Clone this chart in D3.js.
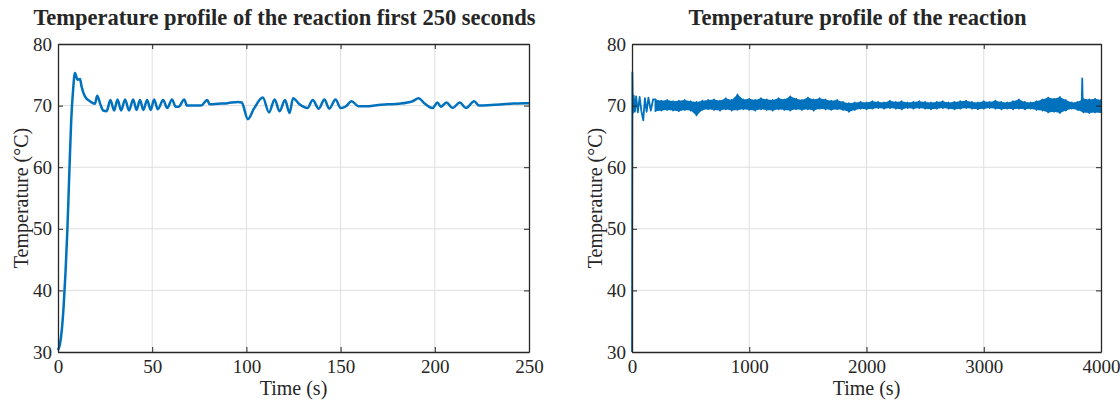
<!DOCTYPE html>
<html>
<head>
<meta charset="utf-8">
<script src="https://cdn.jsdelivr.net/npm/d3@7/dist/d3.min.js"></script>
<style>
body { margin: 0; background: #fff; }
text { font-family: "Liberation Serif", "Times New Roman", serif; fill: #262626; }
</style>
</head>
<body>
<svg id="chart" width="1120" height="402"></svg>
<script>
// left panel: first 250 s
var shortTime = [0, 1, 2, 3, 4, 5, 6, 7, 8, 9, 10.4, 11.7, 12.5, 14.3, 17, 19.6, 20.8, 22.5, 24, 25.8,
    27.8, 29.8, 31.6, 33.5, 35.6, 37.7, 39.9, 41.7, 43.5, 45.3, 47.3, 49.2, 51, 53, 55.8, 58, 60.5, 62.5,
    64, 67, 68.5, 72, 76, 79.2, 80.5, 85, 90, 95.5, 97.5, 100.8, 104, 108.7, 112, 115, 117.6, 120.5,
    122.9, 124.8, 128.2, 132.4, 135.2, 138.4, 141.4, 144, 147.3, 150, 152.9, 155.8, 159.5, 165, 170,
    175, 181, 188.2, 191.4, 194.4, 198.8, 201.4, 203.2, 206.2, 209.4, 213.3, 216.5, 220.9, 223.5, 230,
    240, 248.2, 250];
var shortTemp = [30.3, 31.2, 33.5, 37.5, 43, 50, 59, 67.5, 72.5, 75.3, 74.2, 74.3, 73.1, 71.5, 70.7, 70.3, 71.6, 70.2, 69.2, 69.1,
    70.9, 69.2, 71, 69.2, 71, 69.2, 71, 69.3, 70.9, 69.3, 70.9, 69.3, 71, 69.4, 70.9, 69.6, 71, 69.8,
    69.8, 71, 70, 70, 70, 70.9, 70.2, 70.3, 70.4, 70.6, 70.5, 67.8, 69.5, 71.3, 68.9, 71, 69.1, 70.9,
    68.8, 71.2, 70.2, 69.6, 70.9, 69.5, 71, 69.5, 71, 69.6, 69.9, 70.7, 69.9, 69.9, 70.1,
    70.2, 70.3, 70.7, 71.2, 70.4, 69.6, 70.5, 69.8, 70.5, 69.6, 70.5, 69.6, 70.7, 70, 70.1,
    70.3, 70.4, 70.4];

// right panel: whole run. start-up part, then the noise band (high / low) and one spike
var startTime = [0, 3, 8, 15, 25, 35, 50, 65, 80, 96, 110, 125, 140, 160, 180];
var startTemp = [30, 75.4, 68.8, 71.6, 69.0, 71.5, 68.9, 71.4, 69.1, 67.6, 71.2, 69.0, 71.3, 69.2, 71.0];
var bandTime = [200, 250, 300, 350, 400, 450, 500, 550, 600, 650, 700, 750, 800, 850, 900, 950,
    1000, 1050, 1100, 1150, 1200, 1250, 1300, 1350, 1400, 1450, 1500, 1550, 1600, 1650, 1700, 1750,
    1800, 1850, 1900, 1950, 2000, 2050, 2100, 2150, 2200, 2250, 2300, 2350, 2400, 2450, 2500, 2550,
    2600, 2650, 2700, 2750, 2800, 2850, 2900, 2950, 3000, 3050, 3100, 3150, 3200, 3250, 3300, 3350,
    3400, 3450, 3500, 3550, 3600, 3650, 3700, 3750, 3800, 3850, 3900, 3950, 4000];
var bandHigh = [71.0, 70.8, 70.9, 70.7, 70.8, 70.9, 70.7, 70.6, 70.8, 70.9, 71.0, 70.8, 71.2, 70.9, 71.8, 71.0,
    71.1, 70.9, 71.2, 71.0, 70.9, 71.2, 71.0, 71.5, 71.1, 70.9, 71.3, 71.0, 71.2, 71.0, 70.8, 70.9,
    70.6, 70.4, 70.5, 70.6, 70.5, 70.7, 70.6, 70.5, 70.8, 70.6, 70.7, 70.5, 70.6, 70.7, 70.6, 70.5,
    70.6, 70.7, 70.5, 70.6, 70.7, 70.8, 70.6, 70.5, 70.7, 70.6, 70.8, 70.6, 70.5, 70.7, 71.0, 70.6,
    70.5, 70.7, 71.0, 71.3, 71.1, 71.4, 70.9, 70.5, 70.6, 71.1, 71.0, 71.1, 70.9];
var bandLow = [69.1, 69.2, 69.3, 69.2, 69.1, 69.3, 69.2, 68.4, 69.3, 69.4, 69.3, 69.2, 69.4, 69.2, 69.3, 69.4,
    69.3, 69.2, 69.4, 69.3, 69.2, 69.4, 69.3, 69.2, 69.4, 69.3, 69.4, 69.2, 69.5, 69.4, 69.3, 69.4,
    69.3, 69.0, 69.3, 69.5, 69.4, 69.5, 69.6, 69.5, 69.6, 69.5, 69.4, 69.6, 69.5, 69.6, 69.5, 69.4,
    69.5, 69.6, 69.5, 69.4, 69.5, 69.6, 69.5, 69.4, 69.5, 69.6, 69.5, 69.4, 69.5, 69.4, 69.5, 69.4,
    69.5, 69.3, 69.2, 68.9, 69.0, 68.8, 69.2, 69.5, 69.3, 68.9, 68.8, 68.9, 68.8];
var spikeTime = [3835, 3840, 3845];
var spikeTemp = [69.8, 74.4, 69.6];

var shortTicks = [0, 50, 100, 150, 200, 250];
var longTicks = [0, 1000, 2000, 3000, 4000];
var tempTicks = [30, 40, 50, 60, 70, 80];
var panelTitles = ["Temperature profile of the reaction first 250 seconds", "Temperature profile of the reaction"];
var xTitle = "Time (s)";
var yTitle = "Temperature (\u00B0C)";

var lineColor = "#0072bd";
var serif = "'Liberation Serif', 'Times New Roman', serif";
var svg = d3.select("#chart");

/**
 * Draws one MATLAB style axes box with grid, ticks and labels
 */
function Panel(left, width, xMax, xTicks, title) {
    this.left = left;
    this.top = 44;
    this.width = width;
    this.height = 308;
    this.xScale = d3.scaleLinear().domain([0, xMax]).range([0, width]);
    this.yScale = d3.scaleLinear().domain([30, 80]).range([this.height, 0]);
    this.xTicks = xTicks;
    this.title = title;
    this.g = svg.append("g").attr("transform", "translate(" + left + "," + this.top + ")");
    this.drawFrame();
}

Panel.prototype.drawFrame = function () {
    var _this = this;
    var g = this.g;
    var grid = g.append("g").attr("class", "grid");
    grid.selectAll("line.vx").data(this.xTicks.slice(1, -1)).enter().append("line")
        .attr("x1", function (d) { return _this.xScale(d); })
        .attr("x2", function (d) { return _this.xScale(d); })
        .attr("y1", 0).attr("y2", this.height)
        .attr("stroke", "#dedede").attr("stroke-width", 1);
    grid.selectAll("line.hy").data(tempTicks.slice(1, -1)).enter().append("line")
        .attr("y1", function (d) { return _this.yScale(d); })
        .attr("y2", function (d) { return _this.yScale(d); })
        .attr("x1", 0).attr("x2", this.width)
        .attr("stroke", "#dedede").attr("stroke-width", 1);

    this.dataLayer = g.append("g");

    var fmt = d3.format("d");
    var bottom = g.append("g").attr("transform", "translate(0," + this.height + ")")
        .call(d3.axisBottom(this.xScale).tickValues(this.xTicks).tickFormat(fmt).tickSizeInner(-5).tickSizeOuter(0).tickPadding(8));
    var leftAx = g.append("g")
        .call(d3.axisLeft(this.yScale).tickValues(tempTicks).tickFormat(fmt).tickSizeInner(-5).tickSizeOuter(0).tickPadding(6));
    var topAx = g.append("g")
        .call(d3.axisTop(this.xScale).tickValues(this.xTicks).tickSizeInner(-5).tickSizeOuter(0).tickFormat(""));
    var rightAx = g.append("g").attr("transform", "translate(" + this.width + ",0)")
        .call(d3.axisRight(this.yScale).tickValues(tempTicks).tickSizeInner(-5).tickSizeOuter(0).tickFormat(""));
    [bottom, leftAx, topAx, rightAx].forEach(function (a) {
        a.select(".domain").attr("stroke", "#262626").attr("stroke-width", 1.3);
        a.selectAll(".tick line").attr("stroke", "#262626").attr("stroke-width", 1);
        a.selectAll(".tick text").style("font-size", "19px").style("font-family", serif).attr("fill", "#262626");
    });

    g.append("text")
        .attr("x", this.width / 2 - 9).attr("y", -19)
        .attr("text-anchor", "middle").attr("font-weight", "bold")
        .style("font-size", "22.5px")
        .text(this.title);
    g.append("text")
        .attr("x", this.width / 2).attr("y", this.height + 43)
        .attr("text-anchor", "middle").style("font-size", "20px")
        .text(xTitle);
    g.append("text")
        .attr("transform", "translate(-30," + (this.height / 2) + ") rotate(-90)")
        .attr("text-anchor", "middle").style("font-size", "20px")
        .text(yTitle);
};

Panel.prototype.drawLine = function (points, width, curve) {
    var _this = this;
    var line = d3.line()
        .x(function (d) { return _this.xScale(d[0]); })
        .y(function (d) { return _this.yScale(d[1]); })
        .curve(curve || d3.curveLinear);
    this.dataLayer.append("path").datum(points)
        .attr("d", line)
        .attr("fill", "none")
        .attr("stroke", lineColor)
        .attr("stroke-width", width)
        .attr("stroke-linejoin", "round");
};

Panel.prototype.drawBand = function (times, highs, lows) {
    var _this = this;
    var area = d3.area()
        .x(function (d) { return _this.xScale(d.t); })
        .y0(function (d) { return _this.yScale(d.lo); })
        .y1(function (d) { return _this.yScale(d.hi); });
    var rows = times.map(function (t, i) { return { t: t, hi: highs[i], lo: lows[i] }; });
    this.dataLayer.append("path").datum(rows)
        .attr("d", area)
        .attr("fill", lineColor);
};

// left panel
var leftPanel = new Panel(58, 471, 250, shortTicks, panelTitles[0]);
leftPanel.drawLine(shortTime.map(function (t, i) { return [t, shortTemp[i]]; }), 2.5, d3.curveMonotoneX);

// right panel: band fill plus zigzag through the envelope so the edges stay ragged
var rightPanel = new Panel(632, 469, 4000, longTicks, panelTitles[1]);
rightPanel.drawBand(bandTime, bandHigh, bandLow);
var longPoints = startTime.map(function (t, i) { return [t, startTemp[i]]; });
bandTime.forEach(function (t, i) {
    longPoints.push([t, bandHigh[i]]);
    longPoints.push([t, bandLow[i]]);
});
spikeTime.forEach(function (t, i) { longPoints.push([t, spikeTemp[i]]); });
longPoints.sort(function (a, b) { return a[0] - b[0]; });
rightPanel.drawLine(longPoints, 1.8);
</script>
</body>
</html>
